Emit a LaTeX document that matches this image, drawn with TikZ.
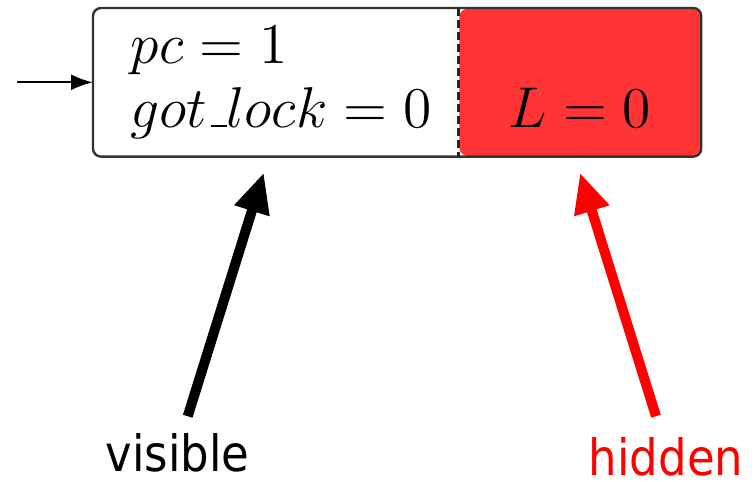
\documentclass[tikz,border=0pt]{standalone}
\usepackage{fontspec}
\newfontfamily\tagfont{DejaVu Sans}[FakeStretch=0.9]
\usepackage{tikz}
\usetikzlibrary{arrows.meta,positioning,calc}
\definecolor{Hid}{HTML}{FF3434}
\definecolor{HidTag}{HTML}{FF0000}
\definecolor{Edge}{HTML}{333333}
% short underscore as in the old OT1 \_
\newcommand\lowbar{\mbox{\kern.06em\vrule width .3em height .4pt depth 0pt}}

\begin{document}
\begin{tikzpicture}[x=0.25pt,y=-0.25pt,
  font=\fontsize{13.5}{16}\selectfont,
  state/.style={inner xsep=9.25pt,inner ysep=0pt,minimum height=36.75pt,
               align=left,text width=72.5pt},
  hide/.style={fill=Hid,rounded corners=2pt,inner xsep=2pt,inner ysep=0pt,
               minimum height=36.75pt,align=center,text width=56.25pt},
  tag/.style={inner sep=0pt,font=\tagfont\fontsize{12.5}{14}\selectfont},
  ar/.style={-{Triangle[length=10pt,width=8.5pt]},line width=2.5pt}]
\useasboundingbox (0,0) rectangle (756,481);
\node[state,anchor=north west] (a) at (93,8)
  {\strut\mbox{$pc = 1$}\\\strut\mbox{$got\lowbar lock = 0$}};
\node[hide,anchor=north west] (b) at (a.north east) {\strut\\\strut\mbox{$L = 0$}};
\draw[Edge,line width=0.6pt,rounded corners=2pt] (a.north west) rectangle (b.south east);
\draw[black!85,line width=0.8pt,dash pattern=on 2pt off 1pt] (b.north west) -- (b.south west);
\coordinate[left=19pt of a.west] (s);
\draw[-{Latex[length=5.5pt,width=4pt]},line width=0.6pt] (s) -- (a.west);
\node[tag,anchor=base west] (v) at (105,471) {visible};
\node[tag,anchor=base west,text=HidTag] (h) at (588,475) {hidden};
\draw[ar] ($(v.north)+(10,-16)$) -- ($(a.south)+(-12,16)$);
\draw[ar,HidTag] ($(h.north)+(-10,-20)$) -- ($(b.south)+(0,16)$);
\end{tikzpicture}
\end{document}
